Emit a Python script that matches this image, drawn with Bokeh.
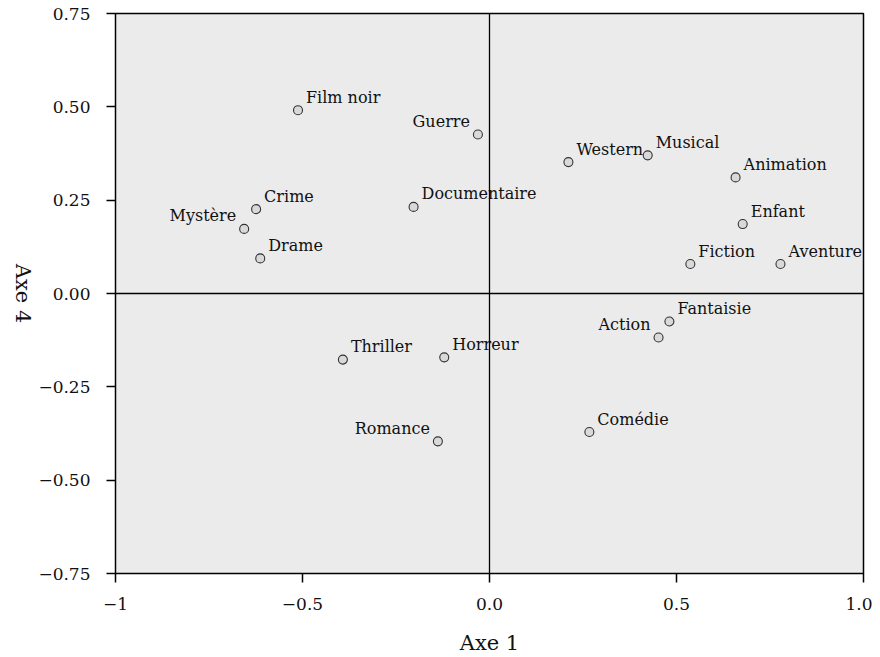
import math
from bokeh.plotting import figure
from bokeh.layouts import row
from bokeh.models import ColumnDataSource, Span, FixedTicker, Range1d
from bokeh.core.properties import value
from bokeh.embed import file_html
from bokeh.resources import INLINE

# ---- data (coordinates on Axe 1 / Axe 4) ----
genres = ["Film noir", "Guerre", "Documentaire", "Crime", "Mystère", "Drame",
          "Thriller", "Horreur", "Romance", "Fantaisie", "Action", "Comédie",
          "Western", "Musical", "Animation", "Enfant", "Fiction", "Aventure"]
axe1 = [-0.512, -0.031, -0.203, -0.624, -0.656, -0.613,
        -0.392, -0.121, -0.138, 0.481, 0.452, 0.267,
        0.211, 0.423, 0.658, 0.677, 0.537, 0.778]
axe4 = [0.491, 0.426, 0.232, 0.226, 0.173, 0.094,
        -0.177, -0.171, -0.396, -0.075, -0.118, -0.371,
        0.352, 0.370, 0.311, 0.186, 0.079, 0.079]
label_side = ["right", "left", "right", "right", "left", "right",
              "right", "right", "left", "right", "left", "right",
              "right", "right", "right", "right", "right", "right"]

x_ticks = [-1.0, -0.5, 0.0, 0.5, 1.0]
x_tick_labels = ["\u22121", "\u22120.5", "0.0", "0.5", "1.0"]
y_ticks = [-0.75, -0.5, -0.25, 0.0, 0.25, 0.5, 0.75]
y_tick_labels = ["\u22120.75", "\u22120.50", "\u22120.25", "0.00", "0.25", "0.50", "0.75"]
x_title = "Axe 1"
y_title = "Axe 4"

FONT = "DejaVu Serif"
TOP, BOTTOM = 13, 83
TITLE_W = 34

yr = Range1d(-0.75, 0.75)

# narrow strip holding the y-axis title (reads top to bottom)
t = figure(width=TITLE_W, height=657, output_backend="svg", toolbar_location=None,
           x_range=Range1d(0, TITLE_W), y_range=yr)
t.min_border_left = 0
t.min_border_right = 0
t.min_border_top = TOP
t.min_border_bottom = BOTTOM
t.axis.visible = False
t.grid.visible = False
t.outline_line_color = None
t.background_fill_color = "white"
t.border_fill_color = "white"
t.text(x=[22], y=[(yr.start + yr.end) / 2], text=[y_title], angle=-math.pi / 2,
       text_align="center", text_baseline="middle",
       text_font=value(FONT), text_font_size="21px", text_color="#111111")

p = figure(width=872 - TITLE_W, height=657, output_backend="svg", toolbar_location=None,
           x_range=Range1d(-1, 1), y_range=yr)
p.min_border_left = 115 - TITLE_W
p.min_border_top = TOP
p.min_border_right = 9
p.min_border_bottom = BOTTOM

p.background_fill_color = "#ebebeb"
p.border_fill_color = "white"
p.outline_line_color = "black"
p.outline_line_width = 1.5
p.grid.visible = False

p.xaxis.ticker = FixedTicker(ticks=x_ticks)
p.yaxis.ticker = FixedTicker(ticks=y_ticks)
p.xaxis.major_label_overrides = dict(zip(x_ticks, x_tick_labels))
p.yaxis.major_label_overrides = dict(zip(y_ticks, y_tick_labels))

for ax in (p.xaxis, p.yaxis):
    ax.axis_line_color = None
    ax.major_tick_line_color = "black"
    ax.major_tick_line_width = 1.5
    ax.major_tick_in = 0
    ax.major_tick_out = 9
    ax.minor_tick_line_color = None
    ax.major_label_text_font = FONT
    ax.major_label_text_font_size = "17px"
    ax.major_label_text_color = "#111111"
    ax.axis_label_text_font = FONT
    ax.axis_label_text_font_size = "21px"
    ax.axis_label_text_font_style = "normal"
    ax.axis_label_text_color = "#111111"

p.xaxis.axis_label = x_title
p.xaxis.major_label_standoff = 15
p.yaxis.major_label_standoff = 16
p.xaxis.axis_label_standoff = 18

p.add_layout(Span(location=0, dimension="height", line_color="black", line_width=1.3))
p.add_layout(Span(location=0, dimension="width", line_color="black", line_width=1.3))

src = ColumnDataSource(dict(x=axe1, y=axe4, name=genres))
p.scatter("x", "y", source=src, size=9, marker="circle",
          fill_color="#d9d9d9", line_color="#333333", line_width=1.1)

right_idx = [i for i, s in enumerate(label_side) if s == "right"]
left_idx = [i for i, s in enumerate(label_side) if s == "left"]
src_r = ColumnDataSource(dict(x=[axe1[i] for i in right_idx], y=[axe4[i] for i in right_idx],
                              name=[genres[i] for i in right_idx]))
src_l = ColumnDataSource(dict(x=[axe1[i] for i in left_idx], y=[axe4[i] for i in left_idx],
                              name=[genres[i] for i in left_idx]))
p.text("x", "y", text="name", source=src_r, x_offset=8, y_offset=-13,
       text_align="left", text_baseline="alphabetic",
       text_font=value(FONT), text_font_size="16px", text_color="#111111")
p.text("x", "y", text="name", source=src_l, x_offset=-8, y_offset=-13,
       text_align="right", text_baseline="alphabetic",
       text_font=value(FONT), text_font_size="16px", text_color="#111111")

layout = row(t, p)
open("out.html", "w").write(file_html(layout, INLINE))
